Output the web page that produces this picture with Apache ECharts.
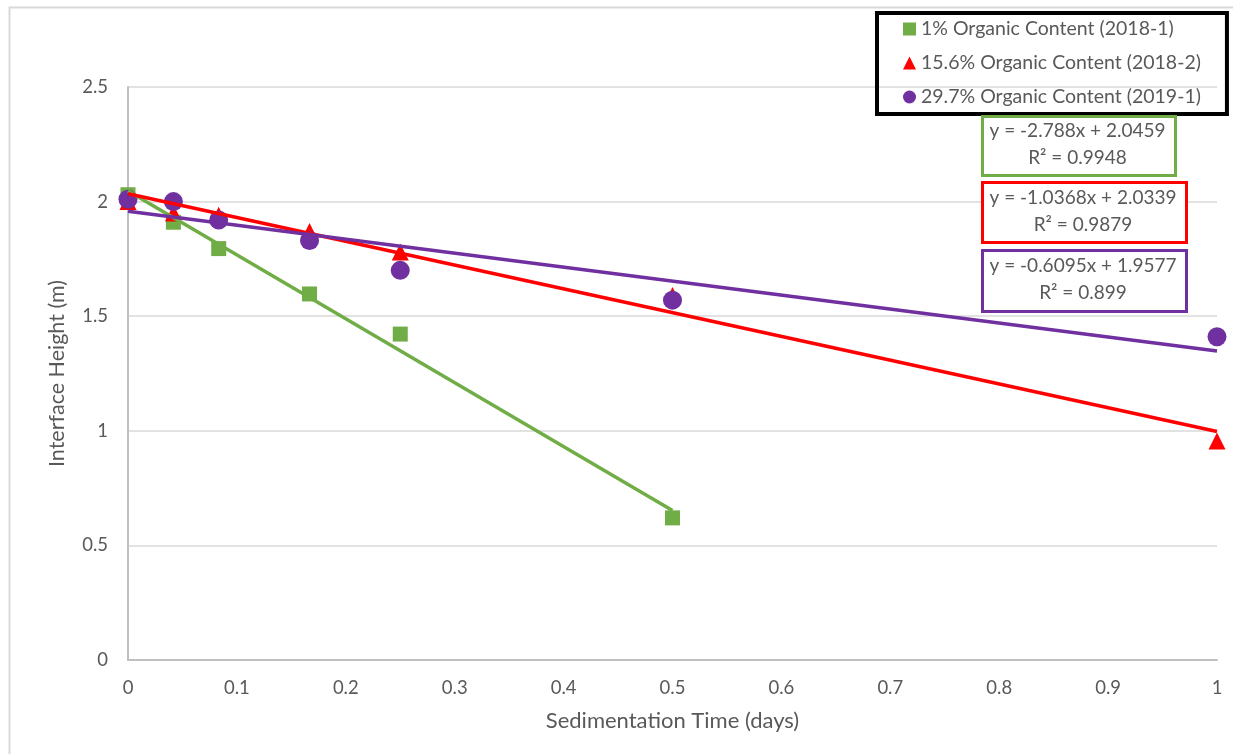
<!DOCTYPE html>
<html><head><meta charset="utf-8">
<script src="https://cdn.jsdelivr.net/npm/echarts@6/dist/echarts.min.js"></script>
<style>html,body{margin:0;padding:0;background:#fff}#c{width:1233px;height:754px}</style>
</head><body><div id="c"></div>
<script>
const seriesNames = ['1% Organic Content (2018-1)', '15.6% Organic Content (2018-2)', '29.7% Organic Content (2019-1)'];
const greenX = [0, 0.0417, 0.0833, 0.1667, 0.25, 0.5];
const greenY = [2.03, 1.91, 1.795, 1.597, 1.422, 0.62];
const redX = [0, 0.0417, 0.0833, 0.1667, 0.25, 0.5, 1];
const redY = [2.0, 1.95, 1.94, 1.87, 1.78, 1.59, 0.955];
const purpleX = [0, 0.0417, 0.0833, 0.1667, 0.25, 0.5, 1];
const purpleY = [2.01, 2.0, 1.92, 1.83, 1.70, 1.57, 1.41];
// trendline end points (as drawn)
const greenTrend = [[0, 2.0459], [0.5, 0.6519]];
const redTrend = [[0, 2.0339], [1, 0.9971]];
const purpleTrend = [[0, 1.9577], [1, 1.3482]];
const equations = [
  'y = -2.788x + 2.0459\nR² = 0.9948',
  'y = -1.0368x + 2.0339\nR² = 0.9879',
  'y = -0.6095x + 1.9577\nR² = 0.899'
];
const xTicks = { min: 0, max: 1, interval: 0.1 };
const yTicks = { min: 0, max: 2.5, interval: 0.5 };
const colors = ['#70ad47', '#ff0000', '#7030a0'];
const FONT = 'Lato, "Open Sans", sans-serif';

const zip = (xs, ys) => xs.map((x, i) => [x, ys[i]]);

const chart = echarts.init(document.getElementById('c'));
const eqBoxes = [
  { left: 981, top: 115, w: 193, h: 59 },
  { left: 981, top: 181, w: 204, h: 60 },
  { left: 981, top: 249, w: 204, h: 61 }
];
chart.setOption({
  animation: false,
  textStyle: { fontFamily: FONT },
  grid: { left: 128, right: 16, top: 87, bottom: 94 },
  xAxis: {
    type: 'value', min: xTicks.min, max: xTicks.max, interval: xTicks.interval,
    name: 'Sedimentation Time (days)', nameLocation: 'middle', nameGap: 50,
    nameTextStyle: { color: '#595959', fontSize: 22, fontFamily: FONT },
    axisLine: { show: true, lineStyle: { color: '#bfbfbf', width: 2 } },
    axisTick: { show: false },
    splitLine: { show: false },
    axisLabel: { color: '#595959', fontSize: 18.5, margin: 19, fontFamily: FONT }
  },
  yAxis: {
    type: 'value', min: yTicks.min, max: yTicks.max, interval: yTicks.interval,
    name: 'Interface Height (m)', nameLocation: 'middle', nameGap: 60,
    nameTextStyle: { color: '#595959', fontSize: 21.5, fontFamily: FONT },
    axisLine: { show: true, lineStyle: { color: '#bfbfbf', width: 2 } },
    axisTick: { show: false },
    splitLine: { show: true, lineStyle: { color: '#d9d9d9', width: 1.5 } },
    axisLabel: { color: '#595959', fontSize: 18.5, margin: 20, fontFamily: FONT }
  },
  legend: {
    orient: 'vertical', left: 877, top: 13,
    data: seriesNames,
    padding: [6, 26, 7, 26], itemGap: 14,
    itemWidth: 13, itemHeight: 13,
    borderColor: '#000', borderWidth: 4,
    textStyle: { color: '#595959', fontSize: 19.5, fontFamily: FONT }
  },
  graphic: {
    elements: [
      { type: 'rect', left: 7, top: 5, shape: { width: 1240, height: 760 }, style: { fill: 'none', stroke: '#d9d9d9', lineWidth: 2 }, silent: true, z: -1 },
      ...equations.flatMap((t, i) => [
        { type: 'rect', left: eqBoxes[i].left, top: eqBoxes[i].top, z: 100,
          shape: { width: eqBoxes[i].w, height: eqBoxes[i].h },
          style: { fill: '#ffffff', stroke: colors[i], lineWidth: 3 } },
        { type: 'text', z: 101,
          x: eqBoxes[i].left + eqBoxes[i].w / 2, y: eqBoxes[i].top + eqBoxes[i].h / 2,
          style: { text: t, align: 'center', verticalAlign: 'middle', fill: '#595959', fontSize: 19, lineHeight: 27, fontFamily: FONT } }
      ])
    ]
  },
  series: [
    { name: seriesNames[0], type: 'scatter', symbol: 'rect', symbolSize: 15, data: zip(greenX, greenY), itemStyle: { color: colors[0], opacity: 1 }, z: 2 },
    { name: seriesNames[1], type: 'scatter', symbol: 'triangle', symbolSize: 17, data: zip(redX, redY), itemStyle: { color: colors[1], opacity: 1 }, z: 3 },
    { name: seriesNames[2], type: 'scatter', symbol: 'circle', symbolSize: 19, data: zip(purpleX, purpleY), itemStyle: { color: colors[2], opacity: 1 }, z: 4 },
    { type: 'line', data: greenTrend, showSymbol: false, symbol: 'none', lineStyle: { color: colors[0], width: 3.5 }, z: 5, silent: true },
    { type: 'line', data: redTrend, showSymbol: false, symbol: 'none', lineStyle: { color: colors[1], width: 3.5 }, z: 5, silent: true },
    { type: 'line', data: purpleTrend, showSymbol: false, symbol: 'none', lineStyle: { color: colors[2], width: 3.5 }, z: 5, silent: true }
  ]
});
</script></body></html>
